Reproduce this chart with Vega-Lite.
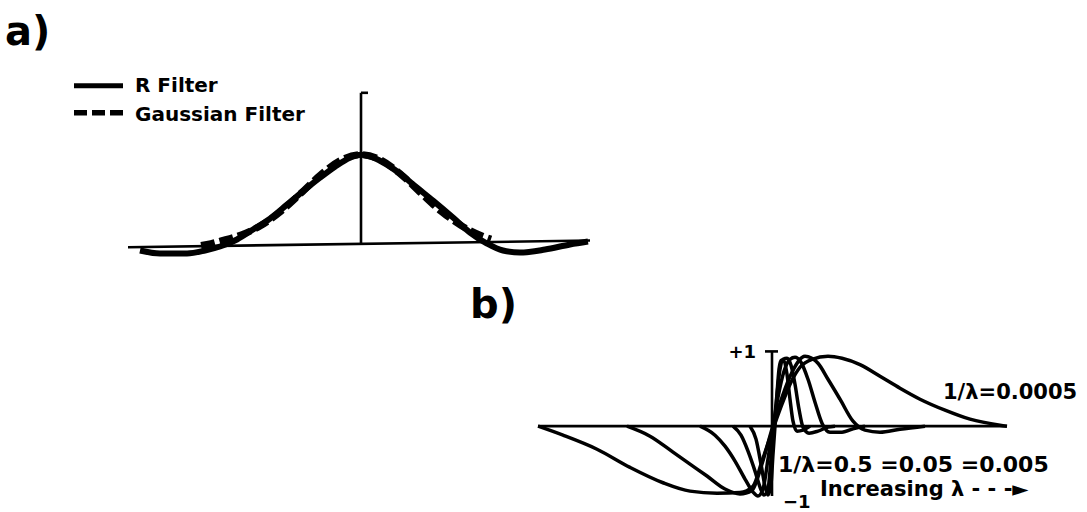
{
  "$schema": "https://vega.github.io/schema/vega-lite/v6.json",
  "width": 1087,
  "height": 512,
  "autosize": {"type": "fit", "contains": "padding"},
  "padding": 0,
  "background": "white",
  "config": {"view": {"stroke": null}, "text": {"font": "DejaVu Sans", "fontWeight": "bold", "color": "black"}},
  "datasets": {
    "one": [{}],
    "a_curves": [
      {"filter": "R Filter", "lag": -11.05, "value": -0.067},
      {"filter": "R Filter", "lag": -10.05, "value": -0.1},
      {"filter": "R Filter", "lag": -8.7, "value": -0.1},
      {"filter": "R Filter", "lag": -7.8, "value": -0.067},
      {"filter": "R Filter", "lag": -7.05, "value": -0.022},
      {"filter": "R Filter", "lag": -6.2, "value": 0.056},
      {"filter": "R Filter", "lag": -5.4, "value": 0.167},
      {"filter": "R Filter", "lag": -4.55, "value": 0.289},
      {"filter": "R Filter", "lag": -3.7, "value": 0.444},
      {"filter": "R Filter", "lag": -2.8, "value": 0.611},
      {"filter": "R Filter", "lag": -2.05, "value": 0.744},
      {"filter": "R Filter", "lag": -1.3, "value": 0.867},
      {"filter": "R Filter", "lag": -0.55, "value": 0.967},
      {"filter": "R Filter", "lag": 0, "value": 1.0},
      {"filter": "R Filter", "lag": 0.75, "value": 0.956},
      {"filter": "R Filter", "lag": 1.45, "value": 0.867},
      {"filter": "R Filter", "lag": 1.95, "value": 0.789},
      {"filter": "R Filter", "lag": 2.8, "value": 0.633},
      {"filter": "R Filter", "lag": 3.6, "value": 0.489},
      {"filter": "R Filter", "lag": 4.6, "value": 0.3},
      {"filter": "R Filter", "lag": 5.45, "value": 0.133},
      {"filter": "R Filter", "lag": 6.3, "value": 0.011},
      {"filter": "R Filter", "lag": 7.1, "value": -0.067},
      {"filter": "R Filter", "lag": 7.95, "value": -0.089},
      {"filter": "R Filter", "lag": 9.2, "value": -0.056},
      {"filter": "R Filter", "lag": 10.45, "value": 0},
      {"filter": "R Filter", "lag": 11.35, "value": 0.033},
      {"filter": "Gaussian Filter", "lag": -8, "value": -0.01},
      {"filter": "Gaussian Filter", "lag": -7.5, "value": 0.01},
      {"filter": "Gaussian Filter", "lag": -7, "value": 0.04},
      {"filter": "Gaussian Filter", "lag": -6, "value": 0.107},
      {"filter": "Gaussian Filter", "lag": -5, "value": 0.212},
      {"filter": "Gaussian Filter", "lag": -4, "value": 0.371},
      {"filter": "Gaussian Filter", "lag": -3, "value": 0.572},
      {"filter": "Gaussian Filter", "lag": -2, "value": 0.78},
      {"filter": "Gaussian Filter", "lag": -1, "value": 0.94},
      {"filter": "Gaussian Filter", "lag": 0, "value": 1.0},
      {"filter": "Gaussian Filter", "lag": 1, "value": 0.94},
      {"filter": "Gaussian Filter", "lag": 2, "value": 0.78},
      {"filter": "Gaussian Filter", "lag": 3, "value": 0.572},
      {"filter": "Gaussian Filter", "lag": 4, "value": 0.371},
      {"filter": "Gaussian Filter", "lag": 5, "value": 0.212},
      {"filter": "Gaussian Filter", "lag": 6, "value": 0.1},
      {"filter": "Gaussian Filter", "lag": 6.5, "value": 0.06}
    ],
    "a_lines": [
      {"part": "baseline", "x1": -11.65, "y1": -0.03, "x2": 11.45, "y2": 0.044},
      {"part": "axis", "x1": 0, "y1": 0, "x2": 0, "y2": 1.689},
      {"part": "tick", "x1": 0, "y1": 1.689, "x2": 0.35, "y2": 1.689}
    ],
    "b_curves": [
      {"curve": "0.0005", "lag": -11.7, "value": 0},
      {"curve": "0.0005", "lag": -10.45, "value": -0.129},
      {"curve": "0.0005", "lag": -8.75, "value": -0.33},
      {"curve": "0.0005", "lag": -7.1, "value": -0.59},
      {"curve": "0.0005", "lag": -5.45, "value": -0.81},
      {"curve": "0.0005", "lag": -4.1, "value": -0.93},
      {"curve": "0.0005", "lag": -2.75, "value": -0.96},
      {"curve": "0.0005", "lag": -1.6, "value": -0.95},
      {"curve": "0.0005", "lag": -0.95, "value": -0.86},
      {"curve": "0.0005", "lag": -0.5, "value": -0.5},
      {"curve": "0.0005", "lag": 0.1, "value": 0},
      {"curve": "0.0005", "lag": 0.5, "value": 0.314},
      {"curve": "0.0005", "lag": 0.95, "value": 0.629},
      {"curve": "0.0005", "lag": 1.4, "value": 0.843},
      {"curve": "0.0005", "lag": 2.0, "value": 0.957},
      {"curve": "0.0005", "lag": 2.8, "value": 1.0},
      {"curve": "0.0005", "lag": 3.5, "value": 0.971},
      {"curve": "0.0005", "lag": 4.4, "value": 0.88},
      {"curve": "0.0005", "lag": 5.4, "value": 0.714},
      {"curve": "0.0005", "lag": 6.4, "value": 0.543},
      {"curve": "0.0005", "lag": 7.4, "value": 0.386},
      {"curve": "0.0005", "lag": 8.65, "value": 0.229},
      {"curve": "0.0005", "lag": 9.9, "value": 0.1},
      {"curve": "0.0005", "lag": 11.4, "value": 0.014},
      {"curve": "0.0005", "lag": 11.75, "value": 0},
      {"curve": "0.005", "lag": -7.25, "value": 0},
      {"curve": "0.005", "lag": -6.1, "value": -0.143},
      {"curve": "0.005", "lag": -4.95, "value": -0.371},
      {"curve": "0.005", "lag": -4.1, "value": -0.543},
      {"curve": "0.005", "lag": -3.25, "value": -0.714},
      {"curve": "0.005", "lag": -2.35, "value": -0.9},
      {"curve": "0.005", "lag": -1.6, "value": -0.97},
      {"curve": "0.005", "lag": -1.0, "value": -0.92},
      {"curve": "0.005", "lag": -0.5, "value": -0.54},
      {"curve": "0.005", "lag": 0, "value": -0.04},
      {"curve": "0.005", "lag": 0.5, "value": 0.414},
      {"curve": "0.005", "lag": 1.0, "value": 0.771},
      {"curve": "0.005", "lag": 1.65, "value": 1.0},
      {"curve": "0.005", "lag": 2.3, "value": 0.9},
      {"curve": "0.005", "lag": 2.8, "value": 0.671},
      {"curve": "0.005", "lag": 3.4, "value": 0.386},
      {"curve": "0.005", "lag": 4.05, "value": 0.071},
      {"curve": "0.005", "lag": 4.65, "value": -0.057},
      {"curve": "0.005", "lag": 5.4, "value": -0.086},
      {"curve": "0.005", "lag": 6.4, "value": -0.043},
      {"curve": "0.005", "lag": 7.65, "value": 0},
      {"curve": "0.05", "lag": -3.6, "value": 0},
      {"curve": "0.05", "lag": -2.85, "value": -0.129},
      {"curve": "0.05", "lag": -2.35, "value": -0.286},
      {"curve": "0.05", "lag": -1.85, "value": -0.5},
      {"curve": "0.05", "lag": -1.35, "value": -0.757},
      {"curve": "0.05", "lag": -0.95, "value": -0.943},
      {"curve": "0.05", "lag": -0.7, "value": -1.0},
      {"curve": "0.05", "lag": -0.45, "value": -0.9},
      {"curve": "0.05", "lag": -0.2, "value": -0.471},
      {"curve": "0.05", "lag": 0.05, "value": 0},
      {"curve": "0.05", "lag": 0.3, "value": 0.414},
      {"curve": "0.05", "lag": 0.6, "value": 0.786},
      {"curve": "0.05", "lag": 0.9, "value": 0.957},
      {"curve": "0.05", "lag": 1.15, "value": 0.986},
      {"curve": "0.05", "lag": 1.45, "value": 0.914},
      {"curve": "0.05", "lag": 1.8, "value": 0.671},
      {"curve": "0.05", "lag": 2.15, "value": 0.343},
      {"curve": "0.05", "lag": 2.5, "value": 0.043},
      {"curve": "0.05", "lag": 2.9, "value": -0.086},
      {"curve": "0.05", "lag": 3.5, "value": -0.086},
      {"curve": "0.05", "lag": 4.15, "value": -0.029},
      {"curve": "0.05", "lag": 4.65, "value": 0},
      {"curve": "0.5", "lag": -1.95, "value": 0},
      {"curve": "0.5", "lag": -1.55, "value": -0.129},
      {"curve": "0.5", "lag": -1.2, "value": -0.357},
      {"curve": "0.5", "lag": -0.85, "value": -0.643},
      {"curve": "0.5", "lag": -0.6, "value": -0.871},
      {"curve": "0.5", "lag": -0.4, "value": -0.986},
      {"curve": "0.5", "lag": -0.2, "value": -0.9},
      {"curve": "0.5", "lag": -0.05, "value": -0.471},
      {"curve": "0.5", "lag": 0.1, "value": 0},
      {"curve": "0.5", "lag": 0.25, "value": 0.457},
      {"curve": "0.5", "lag": 0.4, "value": 0.814},
      {"curve": "0.5", "lag": 0.55, "value": 0.957},
      {"curve": "0.5", "lag": 0.75, "value": 0.971},
      {"curve": "0.5", "lag": 0.95, "value": 0.871},
      {"curve": "0.5", "lag": 1.15, "value": 0.6},
      {"curve": "0.5", "lag": 1.35, "value": 0.243},
      {"curve": "0.5", "lag": 1.55, "value": -0.014},
      {"curve": "0.5", "lag": 1.85, "value": -0.1},
      {"curve": "0.5", "lag": 2.3, "value": -0.071},
      {"curve": "0.5", "lag": 2.8, "value": -0.014},
      {"curve": "0.5", "lag": 3.15, "value": 0},
      {"curve": "narrowest", "lag": -1.1, "value": 0},
      {"curve": "narrowest", "lag": -0.8, "value": -0.186},
      {"curve": "narrowest", "lag": -0.55, "value": -0.543},
      {"curve": "narrowest", "lag": -0.35, "value": -0.857},
      {"curve": "narrowest", "lag": -0.2, "value": -0.986},
      {"curve": "narrowest", "lag": -0.05, "value": -0.829},
      {"curve": "narrowest", "lag": 0.05, "value": -0.4},
      {"curve": "narrowest", "lag": 0.15, "value": 0},
      {"curve": "narrowest", "lag": 0.25, "value": 0.457},
      {"curve": "narrowest", "lag": 0.35, "value": 0.814},
      {"curve": "narrowest", "lag": 0.45, "value": 0.943},
      {"curve": "narrowest", "lag": 0.6, "value": 0.929},
      {"curve": "narrowest", "lag": 0.75, "value": 0.743},
      {"curve": "narrowest", "lag": 0.9, "value": 0.386},
      {"curve": "narrowest", "lag": 1.05, "value": 0.071},
      {"curve": "narrowest", "lag": 1.25, "value": -0.071},
      {"curve": "narrowest", "lag": 1.55, "value": -0.057},
      {"curve": "narrowest", "lag": 1.9, "value": 0}
    ],
    "b_lines": [
      {"part": "baseline", "x1": -11.7, "y1": 0, "x2": 11.75, "y2": 0},
      {"part": "axis", "x1": 0, "y1": -1.0, "x2": 0, "y2": 1.07},
      {"part": "tick", "x1": -0.35, "y1": 1.07, "x2": 0.3, "y2": 1.07}
    ]
  },
  "resolve": {"scale": {"x": "independent", "y": "independent"}},
  "layer": [
    {
      "layer": [
        {
          "data": {"name": "a_lines"},
          "mark": {"type": "rule", "color": "black", "strokeWidth": 2.6},
          "encoding": {
            "x": {"field": "x1", "type": "quantitative", "scale": {"domain": [-18.05, 36.3], "nice": false, "zero": false}, "axis": null},
            "x2": {"field": "x2"},
            "y": {"field": "y1", "type": "quantitative", "scale": {"domain": [-2.9667, 2.7222], "nice": false, "zero": false}, "axis": null},
            "y2": {"field": "y2"}
          }
        },
        {
          "data": {"name": "a_curves"},
          "transform": [{"filter": "datum.filter == 'Gaussian Filter'"}],
          "mark": {"type": "line", "color": "black", "strokeWidth": 7, "strokeDash": [14, 5], "interpolate": "monotone"},
          "encoding": {
            "x": {"field": "lag", "type": "quantitative", "scale": {"domain": [-18.05, 36.3], "nice": false, "zero": false}, "axis": null},
            "y": {"field": "value", "type": "quantitative", "scale": {"domain": [-2.9667, 2.7222], "nice": false, "zero": false}, "axis": null}
          }
        },
        {
          "data": {"name": "a_curves"},
          "transform": [{"filter": "datum.filter == 'R Filter'"}],
          "mark": {"type": "line", "color": "black", "strokeWidth": 6, "interpolate": "monotone"},
          "encoding": {
            "x": {"field": "lag", "type": "quantitative", "scale": {"domain": [-18.05, 36.3], "nice": false, "zero": false}, "axis": null},
            "y": {"field": "value", "type": "quantitative", "scale": {"domain": [-2.9667, 2.7222], "nice": false, "zero": false}, "axis": null}
          }
        },
        {
          "data": {"name": "one"},
          "mark": {"type": "rule", "color": "black", "strokeWidth": 5},
          "encoding": {
            "x": {"datum": -14.35, "type": "quantitative", "scale": {"domain": [-18.05, 36.3], "nice": false, "zero": false}, "axis": null},
            "x2": {"datum": -11.9},
            "y": {"datum": 1.767, "type": "quantitative", "scale": {"domain": [-2.9667, 2.7222], "nice": false, "zero": false}, "axis": null}
          }
        },
        {
          "data": {"name": "one"},
          "mark": {"type": "rule", "color": "black", "strokeWidth": 5.5, "strokeDash": [13, 5]},
          "encoding": {
            "x": {"datum": -14.35, "type": "quantitative", "scale": {"domain": [-18.05, 36.3], "nice": false, "zero": false}, "axis": null},
            "x2": {"datum": -11.9},
            "y": {"datum": 1.467, "type": "quantitative", "scale": {"domain": [-2.9667, 2.7222], "nice": false, "zero": false}, "axis": null}
          }
        },
        {
          "data": {"name": "one"},
          "mark": {"type": "text", "align": "left", "baseline": "middle", "fontSize": 20, "text": "R Filter"},
          "encoding": {
            "x": {"datum": -11.3, "type": "quantitative", "scale": {"domain": [-18.05, 36.3], "nice": false, "zero": false}, "axis": null},
            "y": {"datum": 1.767, "type": "quantitative", "scale": {"domain": [-2.9667, 2.7222], "nice": false, "zero": false}, "axis": null}
          }
        },
        {
          "data": {"name": "one"},
          "mark": {"type": "text", "align": "left", "baseline": "middle", "fontSize": 20, "text": "Gaussian Filter"},
          "encoding": {
            "x": {"datum": -11.3, "type": "quantitative", "scale": {"domain": [-18.05, 36.3], "nice": false, "zero": false}, "axis": null},
            "y": {"datum": 1.444, "type": "quantitative", "scale": {"domain": [-2.9667, 2.7222], "nice": false, "zero": false}, "axis": null}
          }
        },
        {
          "data": {"name": "one"},
          "mark": {"type": "text", "align": "left", "baseline": "middle", "fontSize": 40, "text": "a)"},
          "encoding": {
            "x": {"datum": -17.8, "type": "quantitative", "scale": {"domain": [-18.05, 36.3], "nice": false, "zero": false}, "axis": null},
            "y": {"datum": 2.356, "type": "quantitative", "scale": {"domain": [-2.9667, 2.7222], "nice": false, "zero": false}, "axis": null}
          }
        }
      ]
    },
    {
      "layer": [
        {
          "data": {"name": "b_lines"},
          "mark": {"type": "rule", "color": "black", "strokeWidth": 2.6},
          "encoding": {
            "x": {"field": "x1", "type": "quantitative", "scale": {"domain": [-38.6, 15.75], "nice": false, "zero": false}, "axis": null},
            "x2": {"field": "x2"},
            "y": {"field": "y1", "type": "quantitative", "scale": {"domain": [-1.2143, 6.1], "nice": false, "zero": false}, "axis": null},
            "y2": {"field": "y2"}
          }
        },
        {
          "data": {"name": "b_curves"},
          "mark": {"type": "line", "color": "black", "strokeWidth": 3.5, "interpolate": "monotone"},
          "encoding": {
            "detail": {"field": "curve"},
            "x": {"field": "lag", "type": "quantitative", "scale": {"domain": [-38.6, 15.75], "nice": false, "zero": false}, "axis": null},
            "y": {"field": "value", "type": "quantitative", "scale": {"domain": [-1.2143, 6.1], "nice": false, "zero": false}, "axis": null}
          }
        },
        {
          "data": {"name": "one"},
          "mark": {"type": "text", "align": "left", "baseline": "middle", "fontSize": 40, "text": "b)"},
          "encoding": {
            "x": {"datum": -15.1, "type": "quantitative", "scale": {"domain": [-38.6, 15.75], "nice": false, "zero": false}, "axis": null},
            "y": {"datum": 1.714, "type": "quantitative", "scale": {"domain": [-1.2143, 6.1], "nice": false, "zero": false}, "axis": null}
          }
        },
        {
          "data": {"name": "one"},
          "mark": {"type": "text", "align": "right", "baseline": "middle", "fontSize": 18, "text": "+1"},
          "encoding": {
            "x": {"datum": -0.8, "type": "quantitative", "scale": {"domain": [-38.6, 15.75], "nice": false, "zero": false}, "axis": null},
            "y": {"datum": 1.043, "type": "quantitative", "scale": {"domain": [-1.2143, 6.1], "nice": false, "zero": false}, "axis": null}
          }
        },
        {
          "data": {"name": "one"},
          "mark": {"type": "text", "align": "left", "baseline": "middle", "fontSize": 18, "text": "−1"},
          "encoding": {
            "x": {"datum": 0.55, "type": "quantitative", "scale": {"domain": [-38.6, 15.75], "nice": false, "zero": false}, "axis": null},
            "y": {"datum": -1.1, "type": "quantitative", "scale": {"domain": [-1.2143, 6.1], "nice": false, "zero": false}, "axis": null}
          }
        },
        {
          "data": {"name": "one"},
          "mark": {"type": "text", "align": "left", "baseline": "middle", "fontSize": 21, "text": "1/λ=0.0005"},
          "encoding": {
            "x": {"datum": 8.55, "type": "quantitative", "scale": {"domain": [-38.6, 15.75], "nice": false, "zero": false}, "axis": null},
            "y": {"datum": 0.47, "type": "quantitative", "scale": {"domain": [-1.2143, 6.1], "nice": false, "zero": false}, "axis": null}
          }
        },
        {
          "data": {"name": "one"},
          "mark": {"type": "text", "align": "left", "baseline": "middle", "fontSize": 22, "text": "1/λ=0.5 =0.05 =0.005"},
          "encoding": {
            "x": {"datum": 0.3, "type": "quantitative", "scale": {"domain": [-38.6, 15.75], "nice": false, "zero": false}, "axis": null},
            "y": {"datum": -0.55, "type": "quantitative", "scale": {"domain": [-1.2143, 6.1], "nice": false, "zero": false}, "axis": null}
          }
        },
        {
          "data": {"name": "one"},
          "mark": {"type": "text", "align": "left", "baseline": "middle", "fontSize": 21, "text": "Increasing  λ - - -►"},
          "encoding": {
            "x": {"datum": 2.4, "type": "quantitative", "scale": {"domain": [-38.6, 15.75], "nice": false, "zero": false}, "axis": null},
            "y": {"datum": -0.92, "type": "quantitative", "scale": {"domain": [-1.2143, 6.1], "nice": false, "zero": false}, "axis": null}
          }
        }
      ]
    }
  ]
}
